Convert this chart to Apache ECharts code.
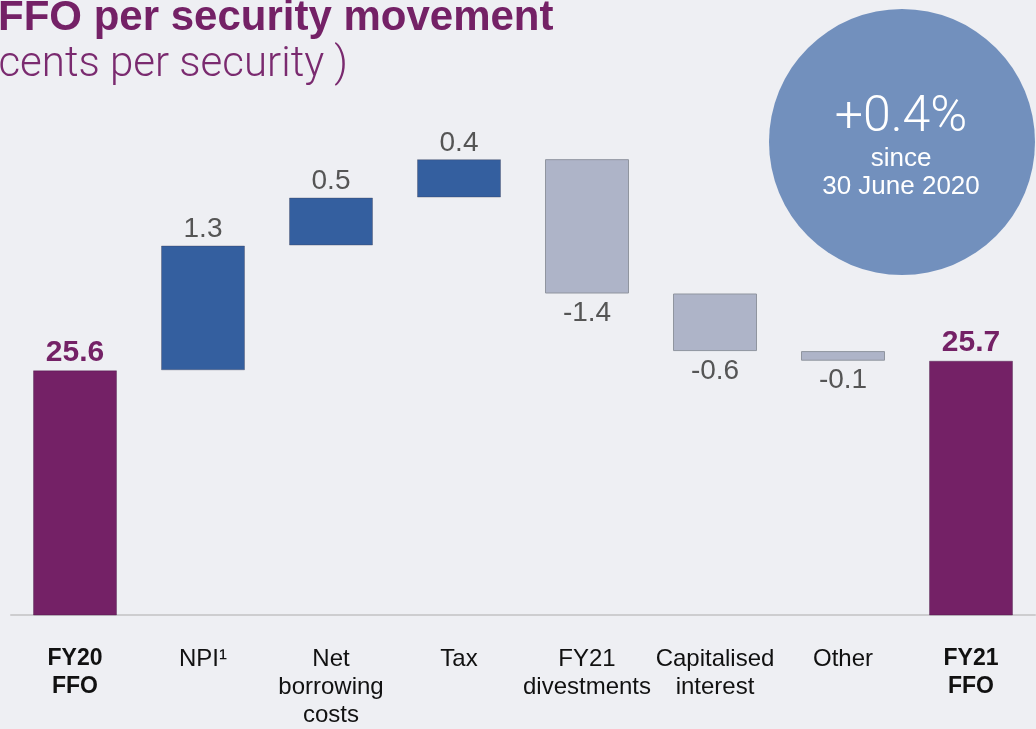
<!DOCTYPE html>
<html>
<head>
<meta charset="utf-8">
<script src="https://cdn.jsdelivr.net/npm/echarts@6/dist/echarts.min.js"></script>
<style>
  html, body { margin: 0; padding: 0; background: #eeeff3; }
  #container { width: 1036px; height: 729px; }
</style>
</head>
<body>
<div id="container"></div>
<script>
// FFO per security movement (cents per security)
var categories = ['FY20\nFFO', 'NPI\u00b9', 'Net\nborrowing\ncosts', 'Tax', 'FY21\ndivestments', 'Capitalised\ninterest', 'Other', 'FY21\nFFO'];
var openingFFO = 25.6;
var closingFFO = 25.7;
var movements = [1.3, 0.5, 0.4, -1.4, -0.6, -0.1]; // NPI .. Other
var changeSince = '+0.4%';

var FONT = "'Helvetica Neue', Helvetica, 'Liberation Sans', Arial, sans-serif";
var PURPLE = '#742166';
var BLUE = '#345f9f';
var GREY = '#aeb4c8';

// build waterfall pieces
var baseData = [0];
var upData = ['-'];
var downData = ['-'];
var running = openingFFO;
for (var i = 0; i < movements.length; i++) {
  var m = movements[i];
  if (m >= 0) {
    baseData.push(+running.toFixed(1));
    upData.push(m);
    downData.push('-');
    running += m;
  } else {
    running += m;
    baseData.push(+running.toFixed(1));
    upData.push('-');
    downData.push(-m);
  }
}
baseData.push(0);
upData.push('-');
downData.push('-');
var totalData = [openingFFO].concat(movements.map(function () { return '-'; })).concat([closingFFO]);

var dom = document.getElementById('container');
var myChart = echarts.init(dom, null, { renderer: 'canvas' });

var moveLabel = function (p) {
  return movements[p.dataIndex - 1].toFixed(1);
};

var option = {
  backgroundColor: '#eeeff3',
  animation: false,
  textStyle: { fontFamily: FONT },
  grid: { left: 11, right: 1, top: 44, bottom: 106 },
  xAxis: {
    type: 'category',
    data: categories,
    axisLine: { lineStyle: { color: '#cdcdcf', width: 2 } },
    axisTick: { show: false },
    axisLabel: {
      interval: 0,
      margin: 30,
      color: '#111',
      fontSize: 24,
      lineHeight: 28,
      fontFamily: FONT,
      formatter: function (v, idx) {
        if (idx === 0 || idx === categories.length - 1) {
          return v.split('\n').map(function (s) { return '{b|' + s + '}'; }).join('\n');
        }
        return v;
      },
      rich: {
        b: { fontWeight: 'bold', fontSize: 23, lineHeight: 28, color: '#111', fontFamily: FONT }
      }
    }
  },
  yAxis: {
    type: 'value',
    min: 23.05,
    max: 29,
    show: false,
    splitLine: { show: false }
  },
  series: [
    {
      name: 'base',
      type: 'bar',
      stack: 'wf',
      barWidth: 84,
      silent: true,
      itemStyle: { color: 'transparent' },
      data: baseData
    },
    {
      name: 'total',
      type: 'bar',
      stack: 'wf',
      barWidth: 84,
      itemStyle: { color: PURPLE, borderColor: 'rgba(60,20,60,0.35)', borderWidth: 1 },
      label: {
        show: true,
        position: 'top',
        distance: 3,
        color: PURPLE,
        fontSize: 30,
        fontWeight: 'bold',
        fontFamily: FONT,
        formatter: function (p) { return p.value.toFixed(1); }
      },
      data: totalData
    },
    {
      name: 'increase',
      type: 'bar',
      stack: 'wf',
      barWidth: 84,
      itemStyle: { color: BLUE, borderColor: 'rgba(60,60,80,0.35)', borderWidth: 1 },
      label: {
        show: true,
        position: 'top',
        distance: 2,
        color: '#555',
        fontSize: 28,
        fontFamily: FONT,
        formatter: moveLabel
      },
      data: upData
    },
    {
      name: 'decrease',
      type: 'bar',
      stack: 'wf',
      barWidth: 84,
      itemStyle: { color: GREY, borderColor: '#90959f', borderWidth: 1 },
      label: {
        show: true,
        position: 'bottom',
        distance: 6,
        color: '#555',
        fontSize: 28,
        fontFamily: FONT,
        formatter: moveLabel
      },
      data: downData
    }
  ],
  graphic: [
    {
      type: 'text',
      left: -2,
      top: -3,
      style: {
        text: 'FFO per security movement',
        fill: PURPLE,
        font: 'bold 42px ' + FONT
      }
    },
    {
      type: 'text',
      left: -15,
      top: 44,
      style: {
        text: '(cents per security )',
        fill: '#7a2a6f',
        font: '300 42px Roboto, ' + FONT
      }
    },
    {
      type: 'circle',
      shape: { cx: 902, cy: 142, r: 133 },
      style: { fill: '#7290bd' },
      z: 10
    },
    {
      type: 'text',
      x: 901,
      y: 118,
      z: 11,
      style: {
        text: changeSince,
        fill: '#fff',
        font: '300 50px Roboto, ' + FONT,
        textAlign: 'center',
        textVerticalAlign: 'middle'
      }
    },
    {
      type: 'text',
      x: 901,
      y: 159,
      z: 11,
      style: {
        text: 'since',
        fill: '#fff',
        font: '26px ' + FONT,
        textAlign: 'center',
        textVerticalAlign: 'middle'
      }
    },
    {
      type: 'text',
      x: 901,
      y: 187,
      z: 11,
      style: {
        text: '30 June 2020',
        fill: '#fff',
        font: '26px ' + FONT,
        textAlign: 'center',
        textVerticalAlign: 'middle'
      }
    }
  ]
};
myChart.setOption(option);
</script>
</body>
</html>
